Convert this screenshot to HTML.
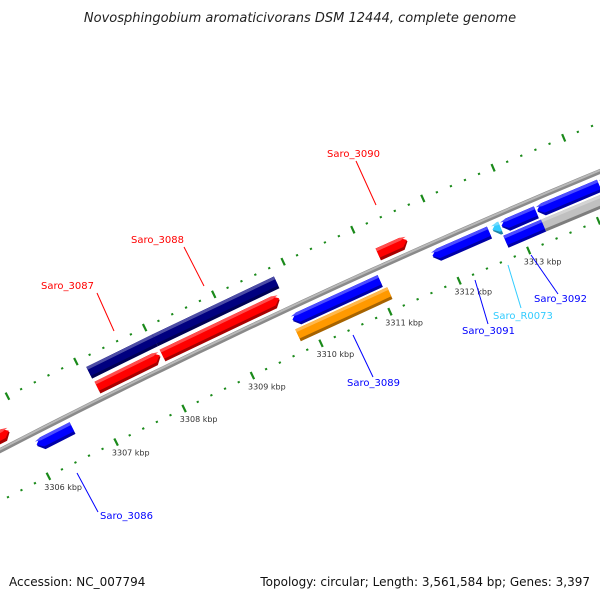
<!DOCTYPE html>
<html><head><meta charset="utf-8">
<style>
html,body{margin:0;padding:0;background:#fff;}
svg{display:block;font-family:"DejaVu Sans","Liberation Sans",sans-serif;}
</style></head>
<body>
<svg id="map" width="600" height="600" viewBox="0 0 600 600">
<rect width="600" height="600" fill="#fff"/>
<text x="300" y="22" text-anchor="middle" font-size="13" font-style="italic" fill="#222">Novosphingobium aromaticivorans DSM 12444, complete genome</text>
<g id="ticks"></g>
<g id="backbone"></g>
<g id="genes"></g>
<g id="kbplabels" font-size="8" fill="#333"></g>
<g font-size="10">
<line x1="97" y1="293" x2="114" y2="331" stroke="#f00"/>
<text x="41" y="289" fill="#f00">Saro_3087</text>
<line x1="184" y1="247" x2="204" y2="286" stroke="#f00"/>
<text x="131" y="243" fill="#f00">Saro_3088</text>
<line x1="356" y1="161" x2="376" y2="205" stroke="#f00"/>
<text x="327" y="157" fill="#f00">Saro_3090</text>
<line x1="353" y1="335" x2="373" y2="377" stroke="#00f"/>
<text x="347" y="386" fill="#00f">Saro_3089</text>
<line x1="475" y1="280" x2="488" y2="324" stroke="#00f"/>
<text x="462" y="334" fill="#00f">Saro_3091</text>
<line x1="508" y1="265" x2="521" y2="308" stroke="#33ccff"/>
<text x="493" y="319" fill="#33ccff">Saro_R0073</text>
<line x1="531" y1="255" x2="558" y2="294" stroke="#00f"/>
<text x="534" y="302" fill="#00f">Saro_3092</text>
<line x1="77" y1="473" x2="98" y2="512" stroke="#00f"/>
<text x="100" y="519" fill="#00f">Saro_3086</text>
</g>
<text x="9" y="586" font-size="12" fill="#111">Accession: NC_007794</text>
<text x="590" y="586" font-size="12" fill="#111" text-anchor="end">Topology: circular; Length: 3,561,584 bp; Genes: 3,397</text>
</svg>
<script>
// data
const geneNames = ["left-red","Saro_3087","Saro_3088","Saro_3090","misc-a","misc-b","Saro_3086","Saro_3089","Saro_3091","Saro_R0073","gene-r1","gene-r2","gene-r3","orange-feature","Saro_3092","gray-feature"];
const geneStart = [3305.0,3307.10,3308.05,3311.17,3307.09,3308.05,3306.05,3309.79,3311.81,3312.67,3312.80,3313.31,3314.21,3309.77,3312.77,3313.31];
const geneEnd   = [3305.81,3308.02,3309.75,3311.59,3308.05,3309.81,3306.57,3311.05,3312.62,3312.78,3313.29,3314.19,3315.0,3311.10,3313.31,3315.0];
const geneTrack = [1,1,1,1,2,2,-1,-1,-1,-1,-1,-1,-1,-2,-2,-2];
const geneStrand= [1,1,1,1,0,0,-1,-1,-1,-1,-1,-1,-1,0,0,0];
const geneColor = ["#ff0000","#ff0000","#ff0000","#ff0000","#000080","#000080","#0000ff","#0000ff","#0000ff","#33ccff","#0000ff","#0000ff","#0000ff","#ff9900","#0000ff","#c0c0c0"];
const kbpTicks = [3306,3307,3308,3309,3310,3311,3312,3313];
const kbpLabels = ["3306 kbp","3307 kbp","3308 kbp","3309 kbp","3310 kbp","3311 kbp","3312 kbp","3313 kbp"];

const NS="http://www.w3.org/2000/svg";
const CX=3691, CY=7600, R=8046, A0=-114.91, DA=0.543, P0=3310;
function pt(p,d){const a=(A0+(p-P0)*DA)*Math.PI/180;const r=R+d;return [CX+r*Math.cos(a),CY+r*Math.sin(a)];}
const trackD={"1":12,"2":29,"-1":-13,"-2":-28};
function shade(hex,f){const n=parseInt(hex.slice(1),16);let r=n>>16,g=(n>>8)&255,b=n&255;
 const m=c=>Math.max(0,Math.min(255,Math.round(f>0?c+(255-c)*f:c*(1+f))));return "rgb("+m(r)+","+m(g)+","+m(b)+")";}

// backbone
const bb=document.getElementById('backbone');
function arcPath(d){let s="";for(let p=3304;p<=3316;p+=0.25){const q=pt(p,d);s+=(s?"L":"M")+q[0].toFixed(1)+","+q[1].toFixed(1);}return s;}
[[0,5,"#8a8a8a"],[1,2,"#b8b8b8"]].forEach(function(o){
 const path=document.createElementNS(NS,'path');
 path.setAttribute('d',arcPath(o[0]));path.setAttribute('fill','none');
 path.setAttribute('stroke',o[2]);path.setAttribute('stroke-width',o[1]);
 
 
 bb.appendChild(path);
});

// ticks
const tg=document.getElementById('ticks');
for(let i=0;i<=60;i++){
 const p=3304+i*0.2; const major=(i%5===0);
 [45,-45].forEach(function(d){
  const h=major?4:1;
  const a=pt(p,d-h),b=pt(p,d+h);
  const l=document.createElementNS(NS,'line');
  l.setAttribute('x1',a[0]);l.setAttribute('y1',a[1]);l.setAttribute('x2',b[0]);l.setAttribute('y2',b[1]);
  l.setAttribute('stroke','#1a8a1a');l.setAttribute('stroke-width',major?2.2:2.2);
  
  
  tg.appendChild(l);
 });
}
const kl=document.getElementById('kbplabels');
kbpTicks.forEach(function(p,i){
 const q=pt(p,-58);
 const t=document.createElementNS(NS,'text');
 t.setAttribute('x',(q[0]-10).toFixed(1));t.setAttribute('y',(q[1]+2).toFixed(1));
 t.textContent=kbpLabels[i];
 
 
 kl.appendChild(t);
});

// genes
const gg=document.getElementById('genes');
const H=13, AH=0.08;
function poly(pts,fill,name){const e=document.createElementNS(NS,'polygon');
 e.setAttribute('points',pts.map(q=>q[0].toFixed(1)+","+q[1].toFixed(1)).join(" "));e.setAttribute('fill',fill);
 
 
 gg.appendChild(e);return e;}
geneNames.forEach(function(nm,i){
 const s=geneStart[i],e=geneEnd[i],d=trackD[String(geneTrack[i])],st=geneStrand[i],c=geneColor[i];
 const ah=Math.min(AH,(e-s)*0.9);
 function shape(lo,hi){
  const pts=[];
  if(st===1){
   pts.push(pt(s,lo),pt(e-ah,lo),pt(e,(lo+hi)/2),pt(e-ah,hi),pt(s,hi));
  }else if(st===-1){
   pts.push(pt(s+ah,lo),pt(e,lo),pt(e,hi),pt(s+ah,hi),pt(s,(lo+hi)/2));
  }else{pts.push(pt(s,lo),pt(e,lo),pt(e,hi),pt(s,hi));}
  return pts;
 }
 poly(shape(d-H/2,d+H/2),shade(c,-0.35),'gene-'+nm.toLowerCase().replace(/_/g,'-')+'-shadow');
 poly(shape(d-H/2+3,d+H/2),c,'gene-'+nm.toLowerCase().replace(/_/g,'-'));
 poly(shape(d+H/2-3,d+H/2),shade(c,0.3),'gene-'+nm.toLowerCase().replace(/_/g,'-')+'-highlight');
});
</script>
</body></html>
